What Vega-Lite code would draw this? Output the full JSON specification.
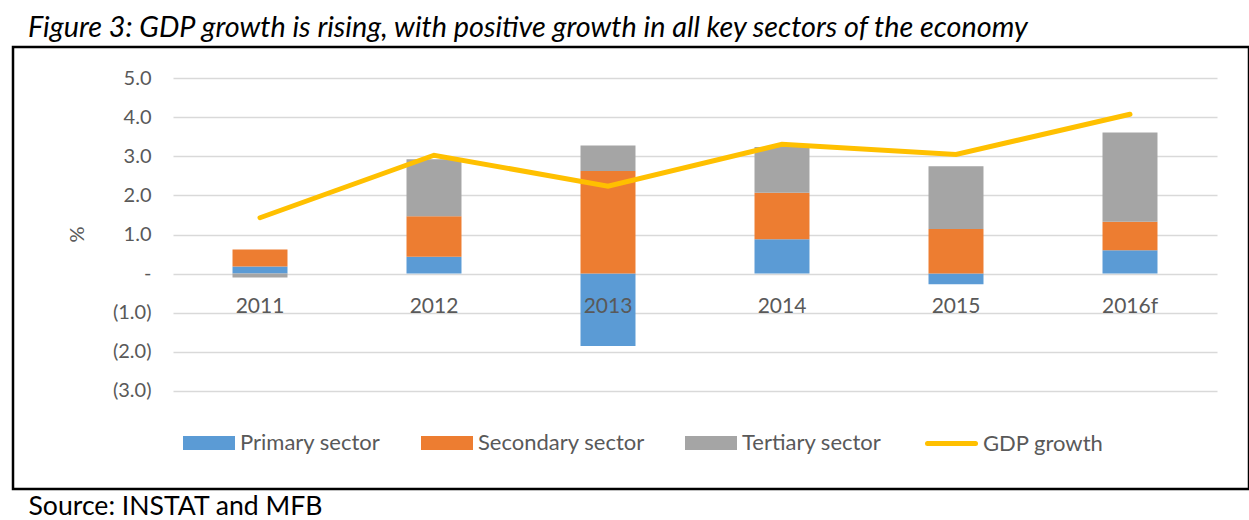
{
  "$schema": "https://vega.github.io/schema/vega-lite/v6.json",
  "width": 1236,
  "height": 442,
  "autosize": {"type": "none"},
  "padding": {"left": 13, "top": 47, "right": 0, "bottom": 31},
  "background": "white",
  "title": {
    "text": "Figure 3: GDP growth is rising, with positive growth in all key sectors of the economy",
    "anchor": "start",
    "frame": "group",
    "dx": 15,
    "dy": 28,
    "offset": 9,
    "baseline": "alphabetic",
    "font": "Lato",
    "fontSize": 28.8,
    "fontStyle": "italic",
    "fontWeight": "normal",
    "color": "#000000"
  },
  "config": {
    "view": {"stroke": "#000000", "strokeWidth": 2.5},
    "font": "Lato"
  },
  "datasets": {
    "sectors": [
      {"year": "2011", "sector": "Primary sector", "value": 0.18},
      {"year": "2011", "sector": "Secondary sector", "value": 0.44},
      {"year": "2011", "sector": "Tertiary sector", "value": -0.10},
      {"year": "2012", "sector": "Primary sector", "value": 0.43},
      {"year": "2012", "sector": "Secondary sector", "value": 1.04},
      {"year": "2012", "sector": "Tertiary sector", "value": 1.46},
      {"year": "2013", "sector": "Primary sector", "value": -1.85},
      {"year": "2013", "sector": "Secondary sector", "value": 2.63},
      {"year": "2013", "sector": "Tertiary sector", "value": 0.65},
      {"year": "2014", "sector": "Primary sector", "value": 0.88},
      {"year": "2014", "sector": "Secondary sector", "value": 1.19},
      {"year": "2014", "sector": "Tertiary sector", "value": 1.17},
      {"year": "2015", "sector": "Primary sector", "value": -0.27},
      {"year": "2015", "sector": "Secondary sector", "value": 1.14},
      {"year": "2015", "sector": "Tertiary sector", "value": 1.61},
      {"year": "2016f", "sector": "Primary sector", "value": 0.60},
      {"year": "2016f", "sector": "Secondary sector", "value": 0.73},
      {"year": "2016f", "sector": "Tertiary sector", "value": 2.28}
    ],
    "gdp": [
      {"year": "2011", "series": "GDP growth", "gdp": 1.43},
      {"year": "2012", "series": "GDP growth", "gdp": 3.03},
      {"year": "2013", "series": "GDP growth", "gdp": 2.24},
      {"year": "2014", "series": "GDP growth", "gdp": 3.31},
      {"year": "2015", "series": "GDP growth", "gdp": 3.05},
      {"year": "2016f", "series": "GDP growth", "gdp": 4.08}
    ]
  },
  "encoding": {
    "x": {
      "field": "year",
      "type": "nominal",
      "sort": ["2011", "2012", "2013", "2014", "2015", "2016f"],
      "scale": {"range": [160, 1204], "paddingInner": 0.684, "paddingOuter": 0.342},
      "axis": {
        "orient": "bottom",
        "offset": -216.3,
        "zindex": 1,
        "domain": false,
        "ticks": false,
        "tickSize": 0,
        "grid": false,
        "labelPadding": 23,
        "labelAngle": 0,
        "labelFont": "Lato",
        "labelFontSize": 21,
        "labelColor": "#595959",
        "title": "Source: INSTAT and MFB",
        "titleX": 15,
        "titleY": 242,
        "titleAlign": "left",
        "titleAnchor": "start",
        "titleBaseline": "alphabetic",
        "titleFont": "Lato",
        "titleFontSize": 26.6,
        "titleFontWeight": "normal",
        "titleColor": "#000000",
        "titleLimit": 600
      }
    }
  },
  "layer": [
    {
      "data": {"name": "sectors"},
      "mark": {"type": "bar"},
      "encoding": {
        "y": {
          "field": "value",
          "type": "quantitative",
          "stack": "zero",
          "title": "%",
          "scale": {"domain": [-3, 5], "range": [343.8, 31.3], "nice": false, "zero": false},
          "axis": {
            "orient": "left",
            "offset": -160,
            "values": [-3, -2, -1, 0, 1, 2, 3, 4, 5],
            "labelExpr": "datum.value == 0 ? '-   ' : (datum.value < 0 ? '(' + format(-datum.value, '.1f') + ')' : format(datum.value, '.1f') + ' ')",
            "domain": false,
            "ticks": false,
            "tickSize": 0,
            "labelPadding": 22,
            "labelFont": "Lato",
            "labelFontSize": 20,
            "labelColor": "#595959",
            "grid": true,
            "gridColor": "#D9D9D9",
            "gridWidth": 1.3,
            "title": "%",
            "titleFont": "Lato",
            "titleFontSize": 20,
            "titleFontWeight": "normal",
            "titleColor": "#595959",
            "titleX": -96,
            "titleY": 187,
            "titleAngle": -90,
            "titleAlign": "center",
            "titleBaseline": "middle"
          }
        },
        "color": {
          "field": "sector",
          "type": "nominal",
          "scale": {
            "domain": ["Primary sector", "Secondary sector", "Tertiary sector"],
            "range": ["#5B9BD5", "#ED7D31", "#A5A5A5"]
          },
          "legend": {
            "orient": "none",
            "legendX": 170,
            "legendY": 370,
            "direction": "horizontal",
            "title": null,
            "padding": 0,
            "symbolType": "M-1,-0.27H1V0.27H-1Z",
            "symbolSize": 2704,
            "symbolStrokeWidth": 0,
            "symbolOpacity": 1,
            "labelFont": "Lato",
            "labelFontSize": 22,
            "labelColor": "#595959",
            "labelOffset": 5,
            "labelLimit": 400,
            "columnPadding": 40
          }
        },
        "order": {"field": "sector", "type": "nominal"}
      }
    },
    {
      "data": {"name": "gdp"},
      "mark": {"type": "line", "strokeWidth": 5, "strokeCap": "round", "strokeJoin": "miter"},
      "encoding": {
        "y": {"field": "gdp", "type": "quantitative", "title": "%"},
        "stroke": {
          "field": "series",
          "type": "nominal",
          "scale": {"domain": ["GDP growth"], "range": ["#FFC000"]},
          "legend": {
            "orient": "none",
            "legendX": 912,
            "legendY": 370,
            "title": null,
            "padding": 0,
            "symbolType": "stroke",
            "symbolSize": 2304,
            "symbolStrokeWidth": 5,
            "labelFont": "Lato",
            "labelFontSize": 22,
            "labelColor": "#595959",
            "labelOffset": 5,
            "labelLimit": 400,
            "encode": {"symbols": {"update": {"strokeCap": {"value": "round"}}}}
          }
        }
      }
    }
  ]
}
